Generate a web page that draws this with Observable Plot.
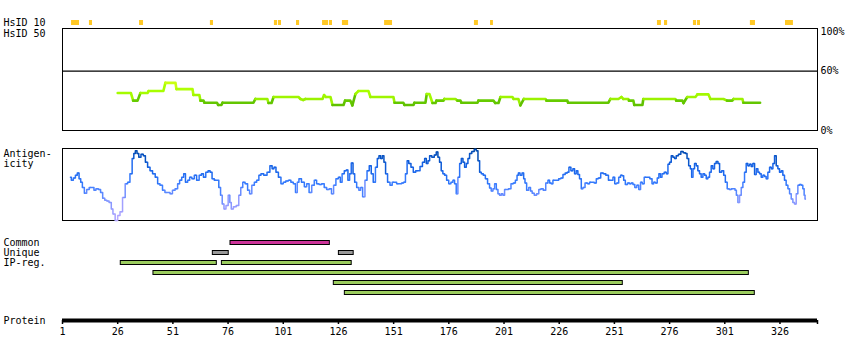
<!DOCTYPE html>
<html><head><meta charset="utf-8">
<script src="https://cdn.jsdelivr.net/npm/d3@7"></script>
<script src="https://cdn.jsdelivr.net/npm/@observablehq/plot@0.6"></script>
<style>
body{margin:0;background:#fff;}
#chart{position:relative;width:850px;height:360px;background:#fff;overflow:hidden;}
#chart svg{position:absolute;left:0;}
</style></head><body><div id="chart"></div>
<script>
// ---------- data ----------
const proteinLength = 343;
const axisTicks = [1, 26, 51, 76, 101, 126, 151, 176, 201, 226, 251, 276, 301, 326];
const pctTicks = [0, 60, 100];

// HsID 10 hits (residue ranges)
const hsid10Start = [5.1, 13.2, 35.9, 68.0, 97.0, 98.8, 107.0, 118.8, 121.9, 127.8, 146.9, 187.6, 194.9, 270.5, 273.7, 286.8, 288.6, 312.6, 328.5];
const hsid10End   = [8.7, 14.6, 37.7, 69.4, 98.4, 100.2, 108.4, 121.5, 123.3, 130.6, 150.5, 189.4, 196.2, 272.3, 275.1, 288.2, 290.0, 314.9, 332.1];

// HsID 50 identity profile (residue, %)
const hsid50 = [[26,37.9],[32,37.9],[33,30.2],[35,30.2],[36.3,37.9],[39.5,37.9],[40,39.9],[46.7,39.9],[47.6,48.2],[52.2,48.2],[52.6,41.9],[59.9,41.9],[60.3,35.9],[63,35.9],[63.5,30.2],[64.9,30.2],[65.3,28.1],[71,28.1],[71.5,25.8],[73,25.8],[73.5,28.1],[87.5,28.1],[88.4,31.9],[93.8,31.9],[94.3,27.8],[95.7,27.8],[96.6,33.9],[107.9,33.9],[108.8,31.9],[110,30.9],[111,31.9],[118.8,31.9],[119.5,35.9],[120.3,33.9],[122.4,33.9],[123.3,25.8],[128.3,25.8],[129,30.2],[131.4,30.2],[132.3,25.4],[133.7,36.9],[135,39.9],[139.6,39.9],[140.5,33.9],[150.9,33.9],[151.4,28.1],[155.4,28.1],[155.9,25.8],[160,25.8],[160.4,28.1],[165.4,28.1],[166,36.9],[167.2,36.9],[168.6,27.8],[170,27.8],[170.4,30.2],[173.6,30.2],[174,31.9],[179,31.9],[179.9,30.2],[181.3,30.2],[181.7,28.1],[189,28.1],[189.4,30.2],[196.2,30.2],[197,27.8],[198.5,27.8],[199.4,33.9],[204.8,33.9],[205.3,31.9],[207.5,31.9],[208.4,25.4],[210,31.9],[219.8,31.9],[220.2,30.2],[229.7,30.2],[230,28.1],[248.3,28.1],[249.2,31.9],[252.8,31.9],[254.2,33.9],[255,31.9],[257.3,31.9],[257.6,30.2],[259.6,30.2],[260,25.8],[263.7,25.8],[264.1,31.9],[278.6,31.9],[279,30.2],[281.8,30.2],[282.3,27.8],[284,33.9],[287.7,33.9],[288.6,36.5],[293.6,36.5],[294.5,31.9],[300.4,31.9],[302,30.2],[304.4,30.2],[305,31.9],[309,31.9],[309.4,28.1],[317,28.1]];

// Antigenicity profile (residue, score 0-100)
const antigenicity = [[4.6,60],[5.4,56],[6.4,59],[7.3,63],[8.1,66],[8.9,58],[9.6,53],[10.4,46],[11.4,38],[12.5,43],[13.7,46],[14.9,46],[15.6,42],[16.7,44],[17.8,43],[18.7,39],[19.7,31],[20.6,28],[21.5,27],[22.7,25],[23.5,16],[24.2,9],[25.5,0],[26.5,7],[27.6,12],[28.8,32],[30,51],[31,53],[32.1,65],[33,86],[33.6,93],[34.4,97],[35.1,93],[36,88],[37.1,92],[38.1,90],[39,81],[40.1,74],[41.2,69],[42.4,65],[43.6,60],[44.6,51],[45.7,49],[46.9,42],[47.9,39],[49.2,39],[50.2,37],[51.4,42],[52.6,44],[53.7,51],[54.4,56],[55.6,60],[56.2,65],[57.2,53],[58.2,56],[59,60],[60.2,58],[61.2,63],[62.3,56],[63.5,63],[64.4,65],[65.3,60],[66.5,67],[67.4,69],[68.3,67],[69.2,58],[70.3,56],[71.3,56],[72.3,46],[72.9,35],[73.8,23],[74.5,16],[75.6,21],[76.5,35],[77.1,25],[77.8,16],[79,19],[80.4,21],[81.3,35],[82.2,46],[83.1,53],[84.3,51],[85.4,42],[86.1,37],[87.4,49],[88.4,53],[89.5,56],[90.4,63],[91.4,65],[92.9,63],[94.4,67],[95.5,76],[96.4,72],[97.2,74],[98.2,67],[99.4,60],[100.5,51],[101.5,53],[102.7,55],[103.9,56],[105,53],[106.1,51],[107,39],[107.7,53],[108.5,58],[110,53],[111.1,47],[112.1,51],[113.3,39],[114.5,49],[115.6,56],[116.6,51],[117.8,50],[119,51],[120.1,46],[121.2,43],[122.4,44],[123.3,37],[124.3,49],[125.4,58],[126.5,60],[127.2,53],[128.1,65],[129.2,69],[129.9,70],[130.7,56],[131.4,65],[132.2,80],[133,65],[133.7,53],[134.8,46],[135.7,42],[136.4,46],[137.5,33],[138.5,56],[139.4,69],[140.5,76],[141.2,65],[142.3,53],[143.2,74],[144,86],[144.7,90],[145.5,86],[146.2,90],[147,81],[147.7,65],[148.8,53],[149.9,49],[150.8,53],[151.8,53],[152.9,51],[154.1,51],[155.1,52],[155.9,53],[156.8,65],[157.4,83],[158.3,79],[159.4,74],[160.4,67],[161.6,69],[162.5,69],[163.4,75],[164.7,81],[165.4,86],[166.2,79],[166.9,83],[167.7,90],[168.9,88],[169.9,91],[170.7,95],[171.4,88],[172.2,81],[172.9,69],[173.7,65],[174.5,63],[175.5,56],[176.4,51],[177.5,53],[178.2,56],[179,51],[179.7,37],[180.5,60],[181.3,79],[182,86],[182.8,81],[183.5,74],[184.3,79],[185,86],[185.8,93],[187,96],[188,99],[188.8,97],[189.6,83],[190.3,67],[191.1,65],[192.1,63],[193,58],[194.1,51],[194.8,45],[195.6,41],[196.4,44],[197.1,51],[197.9,43],[198.6,37],[199.4,35],[200.1,37],[200.9,35],[201.6,43],[202.4,43],[203.6,44],[204.7,51],[205.7,52],[206.6,56],[207.2,63],[207.8,66],[208.7,63],[209.6,66],[210.2,58],[210.8,52],[211.7,42],[212.7,46],[213.3,41],[214.2,38],[215.2,35],[216.3,37],[217.2,43],[218.2,44],[219.3,42],[220.5,52],[221.3,56],[222,52],[222.8,51],[223.5,56],[224.3,56],[225.3,56],[226.2,58],[227.3,59],[228.1,64],[229.3,66],[230,67],[230.8,74],[231.8,69],[232.6,72],[233.3,65],[234.1,69],[234.8,64],[235.6,58],[236.4,44],[237.1,46],[238.3,52],[239.4,51],[240.1,53],[241.3,53],[242.4,52],[243.2,58],[244.2,59],[245.4,66],[246.5,65],[247.7,63],[248.9,56],[250,56],[250.7,60],[251.6,51],[252.5,52],[253.4,60],[254.2,63],[254.9,62],[255.5,56],[256.4,50],[257.5,52],[258.2,51],[259,52],[259.8,50],[260.7,46],[261.6,49],[262.5,43],[263.2,53],[264,51],[265,60],[266.5,60],[267.6,58],[268.5,51],[269.1,53],[270,52],[270.8,59],[271.5,65],[272.1,60],[273,65],[274.1,67],[274.9,65],[275.6,78],[276.4,81],[277.1,90],[277.9,88],[278.6,86],[279.4,90],[280.6,92],[281.6,96],[282.7,94],[283.6,93],[284.2,86],[285.1,76],[285.7,72],[286.3,60],[286.9,72],[287.7,79],[288.4,76],[289.2,69],[289.9,65],[290.7,60],[291.5,65],[292.2,63],[293,58],[293.7,60],[294.5,67],[295.2,76],[296,72],[296.7,79],[297.5,82],[298.3,79],[299,67],[300.2,69],[300.8,63],[301.7,53],[302.5,44],[303.5,43],[304.4,44],[305.4,44],[305.9,42],[306.6,35],[307.3,25],[308.1,35],[308.8,46],[309.6,53],[310.3,67],[311.1,79],[311.8,76],[312.6,78],[313.3,75],[314.1,79],[314.9,64],[315.6,72],[316.4,67],[317.1,65],[317.9,60],[318.6,63],[319.4,61],[320.1,58],[320.9,67],[321.7,74],[322.4,72],[323.2,79],[323.9,90],[324.7,76],[325.4,72],[326.2,67],[326.9,69],[327.7,63],[328.4,56],[329.2,49],[330,44],[330.7,37],[331.5,30],[332.2,25],[333,23],[333.7,37],[334.5,49],[335.2,50],[336,49],[336.7,44],[337.2,35],[337.5,30]];

// Features
const rowLabels = ["Common", "Unique", "IP-reg.", "", "", ""];
const featureTypes = ["Common", "Unique", "IP-reg."];
const featureColors = ["#cc3399", "#999999", "#9bcc5e"];
const featureType  = ["Common", "Unique", "Unique", "IP-reg.", "IP-reg.", "IP-reg.", "IP-reg.", "IP-reg."];
const featureRow   = [0, 1, 1, 2, 2, 3, 4, 5];
const featureStart = [77.1, 69.1, 126.2, 27.4, 73.2, 42.2, 123.9, 128.9];
const featureEnd   = [122.1, 76.3, 132.9, 70.9, 132.0, 311.9, 254.8, 314.6];

// ---------- layout ----------
const W = 850, ML = 62, MR = 33;
const xScale = {domain: [1, proteinLength], axis: null};
const style = {fontFamily: "'DejaVu Sans Mono', monospace", fontSize: "10px", background: "transparent", color: "#000"};
const chart = document.getElementById("chart");
function place(svg, top) { svg.style.position = "absolute"; svg.style.top = top + "px"; svg.style.left = "0px"; chart.append(svg); }
const textOf = d => d;

// HsID 10
const hsid10 = hsid10Start.map((s, i) => ({start: s, end: hsid10End[i]}));
place(Plot.plot({
  width: W, height: 28, marginLeft: ML, marginRight: MR, marginTop: 20, marginBottom: 3, style,
  x: xScale,
  marks: [
    Plot.rect(hsid10, {x1: "start", x2: "end", fill: "#ffc825"}),
    Plot.text(["HsID 10"], {text: textOf, frameAnchor: "left", dx: -59, textAnchor: "start", lineAnchor: "middle"})
  ]
}), 0);

// HsID 50
place(Plot.plot({
  width: W, height: 120, marginLeft: ML, marginRight: MR, marginTop: 8, marginBottom: 10, style,
  x: xScale,
  y: {domain: [0, 103.2], axis: null},
  color: {type: "linear", domain: [25, 30.5, 30.6, 40, 48], range: ["#5fbf00", "#66cc00", "#99f000", "#a8ff00", "#c8ff10"]},
  marks: [
    Plot.frame({stroke: "#000"}),
    Plot.ruleY([60], {stroke: "#000", strokeWidth: 1.2}),
    Plot.line(hsid50, {x: d => d[0], y: d => d[1], z: null, stroke: d => d[1], strokeWidth: 2.6}),
    Plot.text(pctTicks, {y: d => d, text: d => d + "%", frameAnchor: "right", dx: 3, textAnchor: "start", lineAnchor: "middle"}),
    Plot.text(["HsID 50"], {text: textOf, frameAnchor: "top-left", dx: -59, dy: 5, textAnchor: "start", lineAnchor: "middle"})
  ]
}), 20);

// Antigenicity
place(Plot.plot({
  width: W, height: 90, marginLeft: ML, marginRight: MR, marginTop: 8, marginBottom: 10, style,
  x: xScale,
  y: {domain: [0, 100], axis: null},
  color: {type: "linear", domain: [0, 25, 50, 75, 100], range: ["#b8a8ff", "#8a98ff", "#3a7dff", "#1462e6", "#0048a8"]},
  marks: [
    Plot.frame({stroke: "#000"}),
    Plot.line(antigenicity, {x: d => d[0], y: d => d[1], z: null, stroke: d => d[1], strokeWidth: 1.5, curve: "step"}),
    Plot.text(["Antigen-\nicity"], {text: textOf, frameAnchor: "top-left", dx: -59, dy: 10, textAnchor: "start", lineAnchor: "middle"})
  ]
}), 140);

// Features
const features = featureStart.map((s, i) => ({start: s, end: featureEnd[i], row: featureRow[i], type: featureType[i]}));
place(Plot.plot({
  width: W, height: 70, marginLeft: ML, marginRight: MR, marginTop: 7.5, marginBottom: 2.5, style,
  x: xScale,
  y: {type: "band", domain: d3.range(rowLabels.length), paddingInner: 0.6, paddingOuter: 0.3, round: false, axis: null},
  color: {domain: featureTypes, range: featureColors},
  marks: [
    Plot.barX(features, {x1: "start", x2: "end", y: "row", fill: "type", stroke: "#000", strokeWidth: 1}),
    Plot.text(rowLabels, {y: (d, i) => i, text: textOf, frameAnchor: "left", dx: -59, textAnchor: "start", lineAnchor: "middle"})
  ]
}), 230);

// Protein axis
place(Plot.plot({
  width: W, height: 45, marginLeft: ML, marginRight: MR, marginTop: 15, marginBottom: 5, style,
  x: xScale,
  y: {domain: [0, 1], range: [20, 24], axis: null},
  marks: [
    Plot.ruleY([0], {stroke: "#000", strokeWidth: 4}),
    Plot.ruleX(axisTicks.concat([proteinLength]), {x: d => d, y1: 0, y2: 1, stroke: "#000", strokeWidth: 1.5}),
    Plot.text(axisTicks, {x: d => d, text: d => String(d), frameAnchor: "bottom", dy: -9, lineAnchor: "middle"}),
    Plot.text(["Protein"], {text: textOf, frameAnchor: "top-left", dx: -59, dy: 5, textAnchor: "start", lineAnchor: "middle"})
  ]
}), 300);
</script></body></html>
